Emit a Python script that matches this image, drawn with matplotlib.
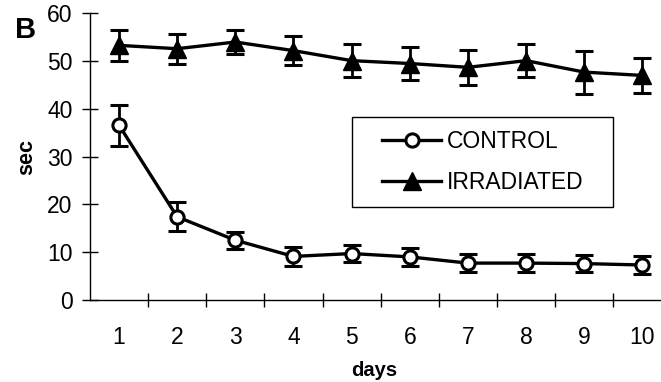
import numpy as np
import matplotlib
matplotlib.use("Agg")
import matplotlib.pyplot as plt
from matplotlib.lines import Line2D
from matplotlib.patches import Rectangle

plt.rcParams['font.family'] = ['Liberation Sans', 'DejaVu Sans']

days = [1, 2, 3, 4, 5, 6, 7, 8, 9, 10]
control = [36.6, 17.4, 12.5, 9.1, 9.7, 9.0, 7.7, 7.7, 7.6, 7.3]
control_err = [4.3, 3.0, 1.8, 2.0, 1.8, 1.9, 1.85, 1.85, 1.85, 1.85]
irradiated = [53.3, 52.6, 54.0, 52.2, 50.1, 49.5, 48.7, 50.1, 47.7, 47.0]
irradiated_err = [3.3, 3.1, 2.5, 3.0, 3.5, 3.4, 3.6, 3.5, 4.5, 3.7]
yticks = [0, 10, 20, 30, 40, 50, 60]

fig = plt.figure(figsize=(6.61, 3.82), dpi=100)
ax = fig.add_axes([0.136, 0.215, 0.864, 0.75])

ctrl_style = dict(color='black', lw=2.4, marker='o', markersize=9.5,
                  markerfacecolor='white', markeredgewidth=2.2)
irr_style = dict(color='black', lw=2.4, marker='^', markersize=12.5,
                 markerfacecolor='black')

ax.errorbar(days, control, yerr=control_err, capsize=6.5, capthick=2.2,
            elinewidth=2, zorder=3, **ctrl_style)
ax.errorbar(days, irradiated, yerr=irradiated_err, capsize=6.5, capthick=2.2,
            elinewidth=2, zorder=3, **irr_style)

ax.set_xlim(0.5, 10.32)
ax.set_ylim(0, 60)
ax.set_yticks(yticks)
ax.set_xticks(days)
ax.set_xticks(np.arange(1.5, 10.5, 1), minor=True)
ax.tick_params(axis='x', which='major', length=0, pad=19, labelsize=16.5)
ax.tick_params(axis='x', which='minor', direction='inout', length=10, width=1)
ax.tick_params(axis='y', direction='inout', length=11, width=1, labelsize=16.5, pad=7)

for s in ['top', 'right']:
    ax.spines[s].set_visible(False)
for s in ['left', 'bottom']:
    ax.spines[s].set_linewidth(1)

ax.set_xlabel('days', fontsize=14.5, fontweight='bold', va='center')
ax.xaxis.set_label_coords(0.497, -0.245)
ax.set_ylabel('sec', fontsize=15.5, fontweight='bold', va='center')
ax.yaxis.set_label_coords(-0.11, 0.5)

# legend box drawn separately (wider than the default legend frame)
ax.add_patch(Rectangle((0.459, 0.324), 0.457, 0.314, transform=ax.transAxes,
                       fill=False, edgecolor='black', lw=1, zorder=4))
handles = [Line2D([], [], **ctrl_style), Line2D([], [], **irr_style)]
leg = ax.legend(handles, ['CONTROL', 'IRRADIATED'], loc='center left',
                bbox_to_anchor=(0.511, 0.481), borderaxespad=0, borderpad=0,
                fontsize=16.5, frameon=False, handlelength=2.6,
                labelspacing=0.8, handletextpad=0.26)

fig.text(25.5 / 661, 1 - 29.5 / 382, 'B', fontsize=21, fontweight='bold',
         ha='center', va='center')

fig.savefig('out.png', dpi=100)
